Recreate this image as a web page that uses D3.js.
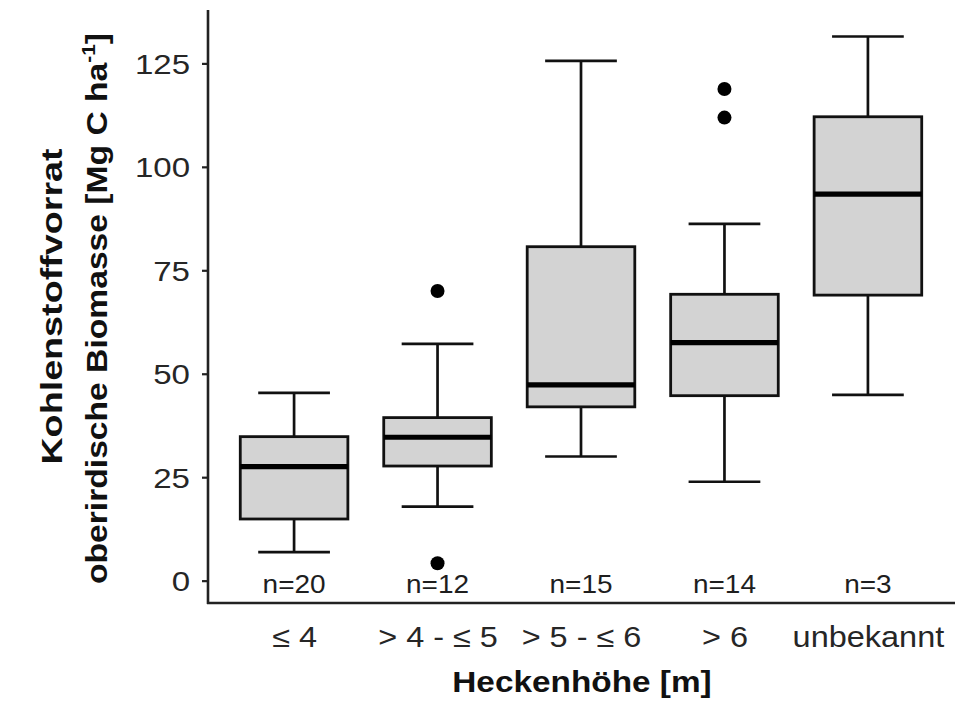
<!DOCTYPE html>
<html>
<head>
<meta charset="utf-8">
<script src="https://cdn.jsdelivr.net/npm/d3@7"></script>
<style>
  html, body { margin: 0; padding: 0; background: #fff; }
  svg { display: block; }
  text { font-family: "Liberation Sans", Arial, sans-serif; }
</style>
</head>
<body>
<svg id="chart" width="960" height="702"></svg>
<script>
// ---- data ----
const categories   = ["\u2264 4", "> 4 - \u2264 5", "> 5 - \u2264 6", "> 6", "unbekannt"];
const nCounts      = [20, 12, 15, 14, 3];
const lowerWhisker = [6.9, 17.9, 30.0, 23.9, 44.9];
const q1Values     = [14.9, 27.7, 42.0, 44.7, 69.0];
const medianValues = [27.55, 34.65, 47.3, 57.5, 93.4];
const q3Values     = [34.8, 39.4, 80.7, 69.2, 112.1];
const upperWhisker = [45.4, 57.2, 125.6, 86.2, 131.5];
const outlierValues = [[], [4.2, 70.0], [], [111.9, 118.8], []];
const yTickValues  = [0, 25, 50, 75, 100, 125];
const xTitle = "Heckenh\u00f6he [m]";
const yTitle1 = "Kohlenstoffvorrat";
const yTitle2 = "oberirdische Biomasse [Mg C ha";

(function () {
// ---- layout ----
const svg = d3.select("#chart");
const pLeft = 208, pRight = 954, pTop = 10, pBottom = 603;
const x = d3.scalePoint().domain(categories).range([pLeft, pRight]).padding(0.6);
const y = d3.scaleLinear().domain([-5.4, 137.9]).range([pBottom, pTop]);
const step = x.step();
const boxW = step * 0.75, capW = step * 0.5;

const data = categories.map((c, i) => ({
  cat: c, n: nCounts[i], lo: lowerWhisker[i], q1: q1Values[i], med: medianValues[i],
  q3: q3Values[i], hi: upperWhisker[i], out: outlierValues[i]
}));

const g = svg.append("g");
const stroke = "#111";

const boxes = g.selectAll("g.box").data(data).join("g").attr("class", "box");
// whiskers
boxes.append("line").attr("x1", d => x(d.cat)).attr("x2", d => x(d.cat))
  .attr("y1", d => y(d.q3)).attr("y2", d => y(d.hi)).attr("stroke", stroke).attr("stroke-width", 2.7);
boxes.append("line").attr("x1", d => x(d.cat)).attr("x2", d => x(d.cat))
  .attr("y1", d => y(d.q1)).attr("y2", d => y(d.lo)).attr("stroke", stroke).attr("stroke-width", 2.7);
// caps
boxes.append("line").attr("x1", d => x(d.cat) - capW / 2).attr("x2", d => x(d.cat) + capW / 2)
  .attr("y1", d => y(d.hi)).attr("y2", d => y(d.hi)).attr("stroke", stroke).attr("stroke-width", 2.7);
boxes.append("line").attr("x1", d => x(d.cat) - capW / 2).attr("x2", d => x(d.cat) + capW / 2)
  .attr("y1", d => y(d.lo)).attr("y2", d => y(d.lo)).attr("stroke", stroke).attr("stroke-width", 2.7);
// box
boxes.append("rect").attr("x", d => x(d.cat) - boxW / 2).attr("width", boxW)
  .attr("y", d => y(d.q3)).attr("height", d => y(d.q1) - y(d.q3))
  .attr("fill", "#d3d3d3").attr("stroke", stroke).attr("stroke-width", 2.8);
// median
boxes.append("line").attr("x1", d => x(d.cat) - boxW / 2).attr("x2", d => x(d.cat) + boxW / 2)
  .attr("y1", d => y(d.med)).attr("y2", d => y(d.med)).attr("stroke", "#000").attr("stroke-width", 5.2);
// outliers
boxes.selectAll("circle").data(d => d.out.map(v => ({ cat: d.cat, v }))).join("circle")
  .attr("cx", d => x(d.cat)).attr("cy", d => y(d.v)).attr("r", 7).attr("fill", "#000");
// n labels
boxes.append("text")
  .attr("transform", d => `translate(${x(d.cat)},${y(0) + 12.5}) scale(1.12,1)`)
  .attr("text-anchor", "middle").attr("font-size", 25).attr("fill", "#1e1e1e")
  .text(d => "n=" + d.n);

// ---- axes ----
const yAxis = svg.append("g").attr("transform", `translate(${pLeft},0)`)
  .call(d3.axisLeft(y).tickValues(yTickValues).tickSize(6).tickPadding(5).tickSizeOuter(0));
yAxis.select(".domain").remove();
yAxis.selectAll(".tick line").attr("stroke", "#222").attr("stroke-width", 2.2);
yAxis.selectAll(".tick text").attr("font-size", 28).attr("fill", "#262626")
  .attr("font-family", "Liberation Sans, Arial, sans-serif")
  .attr("dy", "0.36em").attr("x", null)
  .attr("transform", "translate(-18,0) scale(1.18,1)");

const xAxis = svg.append("g").attr("transform", `translate(0,${pBottom})`)
  .call(d3.axisBottom(x).tickSize(0).tickPadding(0));
xAxis.select(".domain").remove();
xAxis.selectAll(".tick text").attr("font-size", 29).attr("fill", "#262626")
  .attr("font-family", "Liberation Sans, Arial, sans-serif")
  .attr("y", null).attr("dy", null)
  .attr("transform", "translate(0,44) scale(1.12,1)");

// axis lines
svg.append("line").attr("x1", pLeft).attr("x2", pLeft).attr("y1", pTop).attr("y2", pBottom + 1)
  .attr("stroke", "#222").attr("stroke-width", 2.6);
svg.append("line").attr("x1", pLeft - 1).attr("x2", pRight + 1).attr("y1", pBottom).attr("y2", pBottom)
  .attr("stroke", "#222").attr("stroke-width", 2.6);

// ---- titles ----
svg.append("text")
  .attr("transform", `translate(${(pLeft + pRight) / 2 + 1},692) scale(1.15,1)`)
  .attr("text-anchor", "middle").attr("font-size", 29).attr("font-weight", "bold").attr("fill", "#111")
  .text(xTitle);

const midY = (pTop + pBottom) / 2;
svg.append("text")
  .attr("transform", `translate(62,${midY}) rotate(-90) scale(1.3,1)`)
  .attr("text-anchor", "middle").attr("font-size", 29).attr("font-weight", "bold").attr("fill", "#111")
  .text(yTitle1);
const t2 = svg.append("text")
  .attr("transform", `translate(107,${midY + 2}) rotate(-90) scale(1.16,1)`)
  .attr("text-anchor", "middle").attr("font-size", 29).attr("font-weight", "bold").attr("fill", "#111");
t2.append("tspan").text(yTitle2);
t2.append("tspan").attr("font-size", 18).attr("dy", -12).text("-1");
t2.append("tspan").attr("dy", 12).text("]");
})();
</script>
</body>
</html>
